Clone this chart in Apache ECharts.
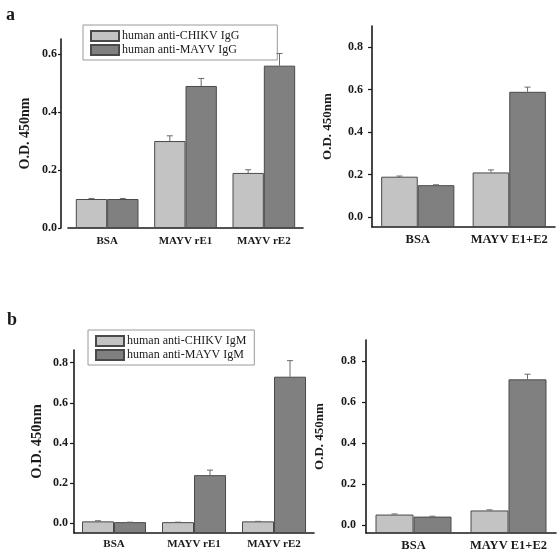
<!DOCTYPE html>
<html>
<head>
<meta charset="utf-8">
<script src="https://cdn.jsdelivr.net/npm/echarts@6/dist/echarts.min.js"></script>
<style>html,body{margin:0;padding:0;background:#fff}#c{width:560px;height:552px}</style>
</head>
<body>
<div id="c"></div>
<script>
// ---- data ----
var catsThree = ['BSA', 'MAYV rE1', 'MAYV rE2'];
var catsTwo = ['BSA', 'MAYV E1+E2'];
var yTicksA = [0, 0.2, 0.4, 0.6];
var yTicksB = [0, 0.2, 0.4, 0.6, 0.8];

var aLeftChikv = [0.10, 0.30, 0.19];
var aLeftChikvErr = [0.002, 0.018, 0.011];
var aLeftMayv = [0.10, 0.49, 0.56];
var aLeftMayvErr = [0.002, 0.026, 0.042];

var aRightChikv = [0.19, 0.21];
var aRightChikvErr = [0.003, 0.012];
var aRightMayv = [0.15, 0.59];
var aRightMayvErr = [0.002, 0.022];

var bLeftChikv = [0.010, 0.006, 0.010];
var bLeftChikvErr = [0.003, 0, 0];
var bLeftMayv = [0.006, 0.24, 0.73];
var bLeftMayvErr = [0, 0.025, 0.08];

var bRightChikv = [0.05, 0.07];
var bRightChikvErr = [0.003, 0.003];
var bRightMayv = [0.04, 0.71];
var bRightMayvErr = [0.002, 0.025];

var nameChikvG = 'human anti-CHIKV IgG', nameMayvG = 'human anti-MAYV IgG';
var nameChikvM = 'human anti-CHIKV IgM', nameMayvM = 'human anti-MAYV IgM';

// ---- style ----
var FONT = 'Liberation Serif';
var LIGHT = '#c3c3c3', DARK = '#808080', EDGE = '#4a4a4a', INK = '#1a1a1a';

function errData(vals, errs, s) {
  return vals.map(function (v, i) { return [i, v, errs[i], s]; });
}
function errSeries(idx, light, lightErr, dark, darkErr) {
  return {
    type: 'custom', name: 'err' + idx, xAxisIndex: idx, yAxisIndex: idx, z: 5,
    silent: true,
    data: errData(light, lightErr, 0).concat(errData(dark, darkErr, 1)),
    renderItem: function (params, api) {
      var x = api.value(0), v = api.value(1), e = api.value(2), s = api.value(3);
      var w = api.size([1, 0])[0];
      var base = api.coord([x, v]);
      var top = api.coord([x, v + e]);
      var cx = base[0] + (s === 0 ? -0.2 : 0.2) * w;
      var st = { stroke: '#6a6a6a', lineWidth: 1 };
      return { type: 'group', children: [
        { type: 'line', shape: { x1: cx, y1: base[1], x2: cx, y2: top[1] }, style: st },
        { type: 'line', shape: { x1: cx - 3, y1: top[1], x2: cx + 3, y2: top[1] }, style: st }
      ]};
    }
  };
}
function barSeries(idx, name, data, color) {
  return {
    type: 'bar', name: name, xAxisIndex: idx, yAxisIndex: idx, data: data,
    barGap: '0%', barCategoryGap: '20%',
    itemStyle: { color: color, borderColor: EDGE, borderWidth: 1 },
    emphasis: { disabled: true }
  };
}
function xAx(idx, cats, fs, margin) {
  return {
    type: 'category', gridIndex: idx, data: cats,
    axisLine: { onZero: false, lineStyle: { color: INK, width: 1.6 } },
    axisTick: { show: false },
    axisLabel: { interval: 0, fontFamily: FONT, fontWeight: 'bold', fontSize: fs, color: INK, margin: margin }
  };
}
function yAx(idx, min, max, ticks, nameSize, nameGap, tickLen, lblMargin, lblSize, offset) {
  return {
    type: 'value', gridIndex: idx, min: min, max: max, offset: offset || 0,
    startValue: min,
    name: 'O.D. 450nm', nameLocation: 'middle', nameGap: nameGap,
    nameTextStyle: { fontFamily: FONT, fontWeight: 'bold', fontSize: nameSize, color: INK },
    splitLine: { show: false },
    axisLine: { show: true, lineStyle: { color: INK, width: 1.6 } },
    axisTick: { show: true, length: tickLen, customValues: ticks, lineStyle: { color: INK, width: 1.2 } },
    axisLabel: { customValues: ticks, fontFamily: FONT, fontWeight: 'bold', fontSize: lblSize, color: INK,
      margin: lblMargin, formatter: function (v) { return v.toFixed(1); } }
  };
}
function legend(left, top, names, padRight) {
  return {
    orient: 'vertical', left: left, top: top, data: names,
    icon: 'rect',
    itemWidth: 28, itemHeight: 10, itemGap: 2,
    padding: [5, padRight, 4, 7],
    borderColor: '#9a9a9a', borderWidth: 1,
    selectedMode: false,
    textStyle: { fontFamily: FONT, fontSize: 12, color: INK, padding: [0, 0, 0, -2] }
  };
}

var chart = echarts.init(document.getElementById('c'), null, { renderer: 'canvas' });
chart.setOption({
  animation: false,
  backgroundColor: '#fff',
  title: [
    { text: 'a', left: 1, top: 1, textStyle: { fontFamily: FONT, fontWeight: 'bold', fontSize: 18, color: INK } },
    { text: 'b', left: 2, top: 306, textStyle: { fontFamily: FONT, fontWeight: 'bold', fontSize: 18, color: INK } }
  ],
  legend: [
    legend(83, 25, [nameChikvG, nameMayvG], 38),
    legend(88, 330, [nameChikvM, nameMayvM], 8)
  ],
  grid: [
    { left: 68, width: 235, top: 39, height: 189 },
    { left: 372, width: 183, top: 26, height: 201 },
    { left: 74, width: 240, top: 350, height: 183 },
    { left: 366, width: 190, top: 340, height: 193 }
  ],
  xAxis: [
    xAx(0, catsThree, 11, 8),
    xAx(1, catsTwo, 12.5, 6),
    xAx(2, catsThree, 11, 6),
    xAx(3, catsTwo, 12.5, 6)
  ],
  yAxis: [
    yAx(0, 0, 0.652, yTicksA, 14, 29, 3, 4, 12, 7),
    yAx(1, -0.047, 0.9, yTicksB, 13, 38, 4, 9, 12),
    yAx(2, -0.048, 0.863, yTicksB, 14.5, 29, 4, 6, 12),
    yAx(3, -0.04, 0.902, yTicksB, 13, 40, 4, 10, 12)
  ],
  series: [
    barSeries(0, nameChikvG, aLeftChikv, LIGHT),
    barSeries(0, nameMayvG, aLeftMayv, DARK),
    errSeries(0, aLeftChikv, aLeftChikvErr, aLeftMayv, aLeftMayvErr),
    barSeries(1, nameChikvG, aRightChikv, LIGHT),
    barSeries(1, nameMayvG, aRightMayv, DARK),
    errSeries(1, aRightChikv, aRightChikvErr, aRightMayv, aRightMayvErr),
    barSeries(2, nameChikvM, bLeftChikv, LIGHT),
    barSeries(2, nameMayvM, bLeftMayv, DARK),
    errSeries(2, bLeftChikv, bLeftChikvErr, bLeftMayv, bLeftMayvErr),
    barSeries(3, nameChikvM, bRightChikv, LIGHT),
    barSeries(3, nameMayvM, bRightMayv, DARK),
    errSeries(3, bRightChikv, bRightChikvErr, bRightMayv, bRightMayvErr)
  ]
});
</script>
</body>
</html>
